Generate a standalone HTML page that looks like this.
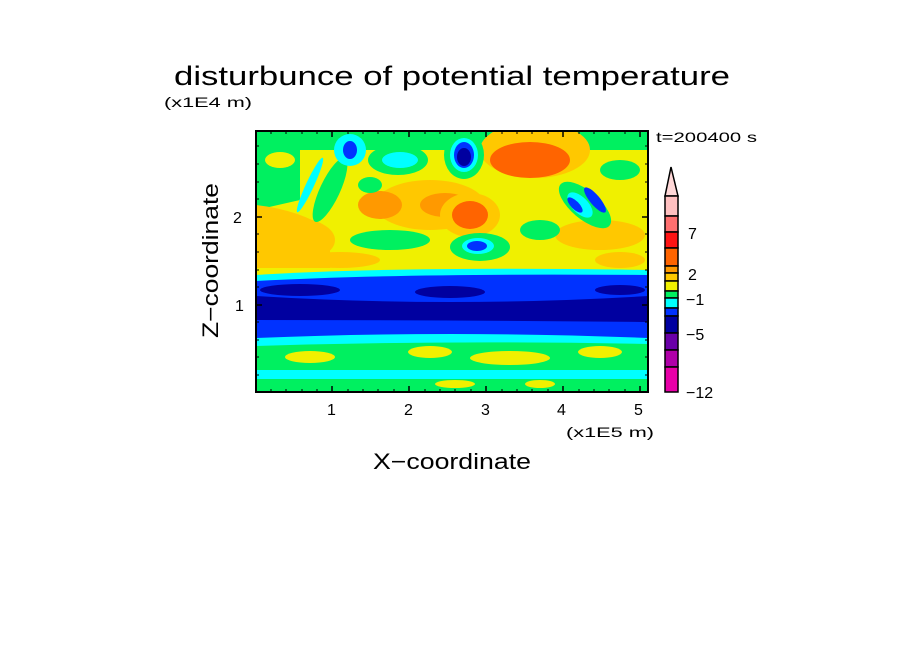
<!DOCTYPE html>
<html><head><meta charset="utf-8"><style>
html,body{margin:0;padding:0;background:#fff}
svg{display:block}
text{font-family:"Liberation Sans",sans-serif;fill:#000}
</style></head><body>
<svg width="904" height="654" viewBox="0 0 904 654" xmlns="http://www.w3.org/2000/svg">
<defs>
<clipPath id="c"><rect x="256" y="131" width="392" height="261"/></clipPath>
</defs>
<text x="174" y="85" font-size="27" textLength="556" lengthAdjust="spacingAndGlyphs">disturbunce of potential temperature</text>
<text x="164" y="107" font-size="14" textLength="88" lengthAdjust="spacingAndGlyphs">(x1E4 m)</text>
<text x="656" y="142" font-size="14" textLength="101" lengthAdjust="spacingAndGlyphs">t=200400 s</text>
<g clip-path="url(#c)">
<rect x="256" y="131" width="392" height="261" fill="#00f060"/>
<rect x="256" y="150" width="392" height="125" fill="#f0f000"/>
<path d="M256 131 L300 131 L300 200 L256 210Z" fill="#00f060"/>
<ellipse cx="280" cy="160" rx="15" ry="8" fill="#f0f000"/>
<path d="M256 205 Q300 210 330 230 L330 268 L256 268Z" fill="#ffc800"/>
<ellipse cx="295" cy="240" rx="40" ry="22" fill="#ffc800"/>
<ellipse cx="330" cy="190" rx="10" ry="35" fill="#00f060" transform="rotate(25 330 190)"/>
<ellipse cx="310" cy="185" rx="4" ry="30" fill="#00ffff" transform="rotate(25 310 185)"/>
<ellipse cx="430" cy="205" rx="55" ry="25" fill="#ffc800"/>
<ellipse cx="445" cy="205" rx="25" ry="12" fill="#ff9900"/>
<ellipse cx="535" cy="150" rx="55" ry="28" fill="#ffc800"/>
<ellipse cx="530" cy="160" rx="40" ry="18" fill="#ff6400"/>
<ellipse cx="470" cy="215" rx="30" ry="22" fill="#ffc800"/>
<ellipse cx="470" cy="215" rx="18" ry="14" fill="#ff6400"/>
<ellipse cx="600" cy="235" rx="45" ry="15" fill="#ffc800"/>
<ellipse cx="380" cy="205" rx="22" ry="14" fill="#ff9900"/>
<ellipse cx="398" cy="160" rx="30" ry="15" fill="#00f060"/>
<ellipse cx="400" cy="160" rx="18" ry="8" fill="#00ffff"/>
<ellipse cx="350" cy="150" rx="16" ry="16" fill="#00ffff"/>
<ellipse cx="350" cy="150" rx="7" ry="9" fill="#0032ff"/>
<ellipse cx="370" cy="185" rx="12" ry="8" fill="#00f060"/>
<ellipse cx="464" cy="155" rx="20" ry="24" fill="#00f060"/>
<ellipse cx="464" cy="155" rx="14" ry="17" fill="#00ffff"/>
<ellipse cx="464" cy="155" rx="10" ry="13" fill="#0032ff"/>
<ellipse cx="464" cy="157" rx="7" ry="9" fill="#0000a0"/>
<ellipse cx="585" cy="205" rx="32" ry="14" fill="#00f060" transform="rotate(40 585 205)"/>
<ellipse cx="580" cy="205" rx="16" ry="8" fill="#00ffff" transform="rotate(45 580 205)"/>
<ellipse cx="575" cy="205" rx="10" ry="4" fill="#0032ff" transform="rotate(45 575 205)"/>
<ellipse cx="595" cy="200" rx="16" ry="5" fill="#0032ff" transform="rotate(50 595 200)"/>
<ellipse cx="540" cy="230" rx="20" ry="10" fill="#00f060"/>
<ellipse cx="480" cy="247" rx="30" ry="14" fill="#00f060"/>
<ellipse cx="478" cy="246" rx="16" ry="8" fill="#00ffff"/>
<ellipse cx="477" cy="246" rx="10" ry="5" fill="#0032ff"/>
<ellipse cx="390" cy="240" rx="40" ry="10" fill="#00f060"/>
<ellipse cx="340" cy="260" rx="40" ry="8" fill="#ffc800"/>
<ellipse cx="620" cy="170" rx="20" ry="10" fill="#00f060"/>
<ellipse cx="620" cy="260" rx="25" ry="8" fill="#ffc800"/>
<path d="M256 275 Q400 266 648 270 L648 392 L256 392Z" fill="#00ffff"/>
<path d="M256 281 Q400 273 648 275 L648 338 Q450 330 256 338Z" fill="#0032ff"/>
<path d="M256 296 Q450 308 648 296 L648 322 Q450 320 256 320Z" fill="#0000a0"/>
<ellipse cx="300" cy="290" rx="40" ry="6" fill="#0000a0"/>
<ellipse cx="450" cy="292" rx="35" ry="6" fill="#0000a0"/>
<ellipse cx="620" cy="290" rx="25" ry="5" fill="#0000a0"/>
<path d="M256 346 Q450 340 648 344 L648 392 L256 392Z" fill="#00f060"/>
<rect x="256" y="370" width="392" height="9" fill="#00ffff"/>
<rect x="256" y="379" width="392" height="13" fill="#00f060"/>
<ellipse cx="430" cy="352" rx="22" ry="6" fill="#f0f000"/>
<ellipse cx="510" cy="358" rx="40" ry="7" fill="#f0f000"/>
<ellipse cx="600" cy="352" rx="22" ry="6" fill="#f0f000"/>
<ellipse cx="310" cy="357" rx="25" ry="6" fill="#f0f000"/>
<ellipse cx="455" cy="384" rx="20" ry="4" fill="#f0f000"/>
<ellipse cx="540" cy="384" rx="15" ry="4" fill="#f0f000"/>
</g>
<rect x="256" y="131" width="392" height="261" fill="none" stroke="#000" stroke-width="2"/>
<g stroke="#000" stroke-width="1.5">
<path d="M332 392v-6M409 392v-6M486 392v-6M563 392v-6M640 392v-6M332 131v6M409 131v6M486 131v6M563 131v6M640 131v6"/>
<path d="M256 217h6M256 305h6M648 217h-6M648 305h-6"/>
</g>
<g stroke="#000" stroke-width="1">
<path d="M271 392v-3M286 392v-3M302 392v-3M317 392v-3M348 392v-3M363 392v-3M378 392v-3M394 392v-3M425 392v-3M440 392v-3M455 392v-3M471 392v-3M502 392v-3M517 392v-3M532 392v-3M548 392v-3M579 392v-3M594 392v-3M609 392v-3M625 392v-3"/>
<path d="M271 131v3M286 131v3M302 131v3M317 131v3M348 131v3M363 131v3M378 131v3M394 131v3M425 131v3M440 131v3M455 131v3M471 131v3M502 131v3M517 131v3M532 131v3M548 131v3M579 131v3M594 131v3M609 131v3M625 131v3"/>
<path d="M256 375h3M256 357h3M256 340h3M256 322h3M256 287h3M256 270h3M256 252h3M256 234h3M256 199h3M256 182h3M256 164h3M256 146h3"/>
<path d="M648 375h-3M648 357h-3M648 340h-3M648 322h-3M648 287h-3M648 270h-3M648 252h-3M648 234h-3M648 199h-3M648 182h-3M648 164h-3M648 146h-3"/>
</g>
<text x="327" y="415" font-size="16">1</text>
<text x="404" y="415" font-size="16">2</text>
<text x="481" y="415" font-size="16">3</text>
<text x="557" y="415" font-size="16">4</text>
<text x="634" y="415" font-size="16">5</text>
<text x="566" y="437" font-size="14" textLength="88" lengthAdjust="spacingAndGlyphs">(x1E5 m)</text>
<text x="373" y="469" font-size="22" textLength="158" lengthAdjust="spacingAndGlyphs">X−coordinate</text>
<text x="233" y="223" font-size="16">2</text>
<text x="235" y="311" font-size="16">1</text>
<text transform="translate(218 338) rotate(-90)" font-size="22" textLength="155" lengthAdjust="spacingAndGlyphs">Z−coordinate</text>
<g stroke="#000" stroke-width="1.5">
<path d="M671 167 L665 196 L678 196Z" fill="#ffd8d8"/>
<rect x="665" y="196" width="13" height="20" fill="#ffc0c0"/>
<rect x="665" y="216" width="13" height="16" fill="#ff7070"/>
<rect x="665" y="232" width="13" height="16" fill="#ff1414"/>
<rect x="665" y="248" width="13" height="18" fill="#ff6400"/>
<rect x="665" y="266" width="13" height="7" fill="#ff9900"/>
<rect x="665" y="273" width="13" height="8" fill="#ffc800"/>
<rect x="665" y="281" width="13" height="10" fill="#f0f000"/>
<rect x="665" y="291" width="13" height="7" fill="#00f060"/>
<rect x="665" y="298" width="13" height="10" fill="#00ffff"/>
<rect x="665" y="308" width="13" height="8" fill="#0032ff"/>
<rect x="665" y="316" width="13" height="17" fill="#0000a0"/>
<rect x="665" y="333" width="13" height="17" fill="#6a00a8"/>
<rect x="665" y="350" width="13" height="17" fill="#b000a8"/>
<rect x="665" y="367" width="13" height="25" fill="#e800a8"/>
</g>
<text x="688" y="239" font-size="16">7</text>
<text x="688" y="280" font-size="16">2</text>
<text x="686" y="305" font-size="16">−1</text>
<text x="686" y="340" font-size="16">−5</text>
<text x="686" y="398" font-size="16">−12</text>
</svg>
</body></html>
